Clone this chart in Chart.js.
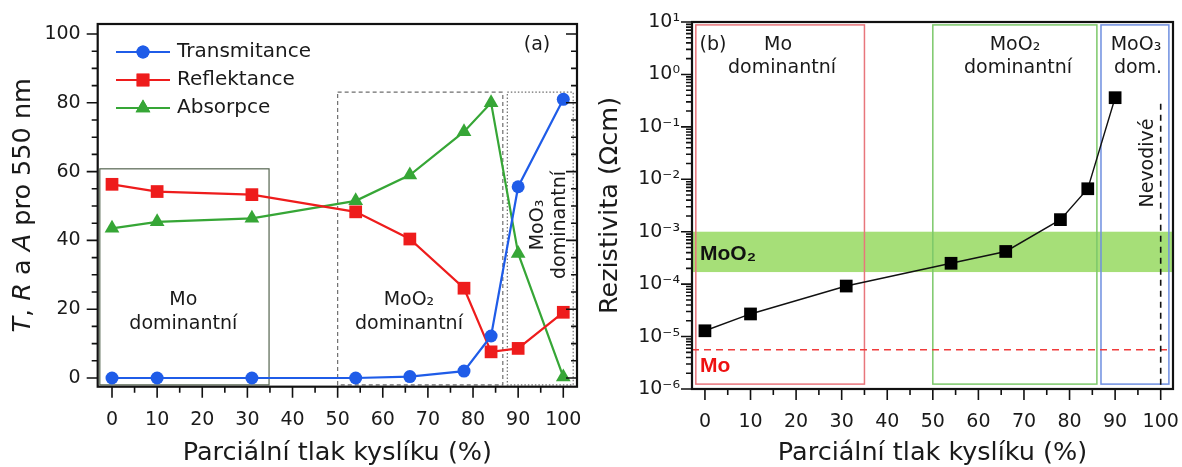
<!DOCTYPE html>
<html>
<head>
<meta charset="utf-8">
<script src="https://cdn.jsdelivr.net/npm/chart.js@4.4.1/dist/chart.umd.min.js"></script>
<style>
html, body { margin: 0; padding: 0; background: #fff; }
#wrap { position: relative; width: 1182px; height: 467px; }
#chartA { position: absolute; left: 0; top: 0; }
#chartB { position: absolute; left: 595px; top: 0; }
</style>
</head>
<body>
<div id="wrap">
  <canvas id="chartA" width="595" height="467"></canvas>
  <canvas id="chartB" width="587" height="467"></canvas>
</div>
<script>
// (a) T, R, A pro 550 nm
const pressureA = [0, 10, 31, 54, 66, 78, 84, 90, 100];
const transmitance = [0, 0, 0, 0, 0.4, 2, 12.2, 55.6, 81];
const reflektance = [56.3, 54.2, 53.3, 48.3, 40.4, 26.1, 7.6, 8.6, 19.1];
const absorpce = [43.5, 45.4, 46.4, 51.5, 59, 71.6, 80, 36.2, 0.3];

// (b) rezistivita
const pressureB = [0, 10, 31, 54, 66, 78, 84, 90];
const rezistivita = [1.29e-5, 2.7e-5, 9.2e-5, 2.5e-4, 4.2e-4, 1.7e-3, 6.6e-3, 0.36];

// osy
const xTicks = [0, 10, 20, 30, 40, 50, 60, 70, 80, 90, 100];
const yTicksA = [0, 20, 40, 60, 80, 100];
const yTicksB = [1e-6, 1e-5, 1e-4, 1e-3, 1e-2, 1e-1, 1e0, 1e1];

// oblasti [x1, x2, y1, y2]
const boxMoA = [-2.7, 34.8, -2, 60.8];
const boxMoO2A = [50, 86.6, -2, 83.1];
const boxMoO3A = [87.6, 102.2, -2, 83.1];
const boxMoB = [-2, 35, 1.24e-6, 8.8];
const boxMoO2B = [50, 86, 1.24e-6, 8.8];
const boxMoO3B = [86.9, 101.8, 1.24e-6, 8.8];
const bandMoO2 = [1.7e-4, 1e-3];
const lineMo = 5.6e-6;
const lineNevodive = [100, 0.36];

const blue = '#1f5ce8';
const red = '#ee1c1c';
const green = '#36a636';
const sans = '"DejaVu Sans", Verdana, sans-serif';
const arial = '"Liberation Sans", Arial, sans-serif';

const sup = { '-': '⁻', '0': '⁰', '1': '¹', '2': '²', '3': '³', '4': '⁴', '5': '⁵', '6': '⁶', '7': '⁷', '8': '⁸', '9': '⁹' };

function toPoints(xs, ys) {
    return xs.map((x, i) => ({ x: x, y: ys[i] }));
}

function rectBox(chart, b, color, lw, dash) {
    const { ctx } = chart;
    const xs = chart.scales.x, ys = chart.scales.y;
    const x1 = xs.getPixelForValue(b[0]), x2 = xs.getPixelForValue(b[1]);
    const y1 = ys.getPixelForValue(b[2]), y2 = ys.getPixelForValue(b[3]);
    ctx.save();
    ctx.strokeStyle = color;
    ctx.lineWidth = lw;
    ctx.setLineDash(dash || []);
    ctx.strokeRect(x1, y2, x2 - x1, y1 - y2);
    ctx.restore();
}

function text(ctx, str, x, y, font, color, align) {
    ctx.save();
    ctx.font = font;
    ctx.fillStyle = color || '#1a1a1a';
    ctx.textAlign = align || 'center';
    ctx.textBaseline = 'middle';
    ctx.fillText(str, x, y);
    ctx.restore();
}

function vtext(ctx, lines, cx, cy, font, gap) {
    ctx.save();
    ctx.translate(cx, cy);
    ctx.rotate(-Math.PI / 2);
    ctx.font = font;
    ctx.fillStyle = '#1a1a1a';
    ctx.textAlign = 'center';
    ctx.textBaseline = 'middle';
    lines.forEach((l, i) => ctx.fillText(l, 0, (i - (lines.length - 1) / 2) * gap));
    ctx.restore();
}

// ramecek a carky os
function frameAndTicks(chart, spec) {
    const { ctx, chartArea: a } = chart;
    const xs = chart.scales.x, ys = chart.scales.y;
    ctx.save();
    ctx.strokeStyle = '#111';
    ctx.lineWidth = 1.6;
    ctx.beginPath();
    spec.xMajor.forEach(v => {
        const p = xs.getPixelForValue(v);
        ctx.moveTo(p, a.bottom); ctx.lineTo(p, a.bottom + 11);
    });
    spec.xMinor.forEach(v => {
        const p = xs.getPixelForValue(v);
        ctx.moveTo(p, a.bottom); ctx.lineTo(p, a.bottom + 6);
    });
    spec.yMajor.forEach(v => {
        const p = ys.getPixelForValue(v);
        ctx.moveTo(a.left, p); ctx.lineTo(a.left - 11, p);
        if (spec.right) { ctx.moveTo(a.right, p); ctx.lineTo(a.right - 11, p); }
    });
    spec.yMinor.forEach(v => {
        const p = ys.getPixelForValue(v);
        ctx.moveTo(a.left, p); ctx.lineTo(a.left - 6, p);
        if (spec.right) { ctx.moveTo(a.right, p); ctx.lineTo(a.right - 6, p); }
    });
    ctx.stroke();
    ctx.lineWidth = 2.2;
    ctx.strokeRect(a.left, a.top, a.right - a.left, a.bottom - a.top);
    ctx.restore();
}

const minorX = xTicks.slice(1).map(v => v - 5);

function fixX(h) {
    return s => { s.height = h; s.paddingLeft = 0; s.paddingRight = 0; };
}
function fixY(w) {
    return s => { s.width = w; s.paddingTop = 0; s.paddingBottom = 0; };
}

const panelA = {
    id: 'panelA',
    beforeDatasetsDraw(chart) {
        const { ctx } = chart;
        const xs = chart.scales.x;
        rectBox(chart, boxMoA, '#55644f', 1.2);
        rectBox(chart, boxMoO2A, '#6e6e6e', 1.2, [4, 3]);
        rectBox(chart, boxMoO3A, '#6e6e6e', 1.2, [1.5, 2]);
        const f = '19px ' + sans;
        text(ctx, 'Mo', xs.getPixelForValue(15.8), 300, f);
        text(ctx, 'dominantní', xs.getPixelForValue(15.8), 324, f);
        text(ctx, 'MoO₂', xs.getPixelForValue(65.8), 300, f);
        text(ctx, 'dominantní', xs.getPixelForValue(65.8), 324, f);
        vtext(ctx, ['MoO₃', 'dominantní'], xs.getPixelForValue(96.9), 225, f, 22);
        text(ctx, '(a)', 537, 45, f);
    },
    afterDraw(chart) {
        const { ctx } = chart;
        const yMinor = [];
        for (let v = 5; v < 100; v += 5) if (v % 20) yMinor.push(v);
        frameAndTicks(chart, {
            xMajor: xTicks, xMinor: minorX,
            yMajor: yTicksA, yMinor: yMinor,
            right: true
        });
        // legenda
        const items = [
            ['Transmitance', blue, 'circle', 6.5],
            ['Reflektance', red, 'rect', 9],
            ['Absorpce', green, 'triangle', 8.5]
        ];
        items.forEach((it, i) => {
            const y = 52 + i * 28;
            ctx.save();
            ctx.strokeStyle = it[1];
            ctx.lineWidth = 2.2;
            ctx.beginPath();
            ctx.moveTo(116, y); ctx.lineTo(170, y);
            ctx.stroke();
            ctx.fillStyle = it[1];
            Chart.helpers.drawPoint(ctx, { pointStyle: it[2], radius: it[3], borderWidth: 0 }, 143, y);
            ctx.fill();
            ctx.restore();
            text(ctx, it[0], 177, y, '20px ' + sans, '#1a1a1a', 'left');
        });
        // popisek osy y se smisenym pismem
        const parts = [['T', true], [', ', false], ['R', true], [' a ', false], ['A', true], [' pro 550 nm', false]];
        ctx.save();
        ctx.translate(23, (chart.chartArea.top + chart.chartArea.bottom) / 2);
        ctx.rotate(-Math.PI / 2);
        ctx.fillStyle = '#1a1a1a';
        ctx.textBaseline = 'middle';
        ctx.textAlign = 'left';
        const fontOf = p => (p[1] ? 'italic ' : '') + '25.5px ' + sans;
        let total = 0;
        parts.forEach(p => { ctx.font = fontOf(p); total += ctx.measureText(p[0]).width; });
        let x = -total / 2;
        parts.forEach(p => { ctx.font = fontOf(p); ctx.fillText(p[0], x, 0); x += ctx.measureText(p[0]).width; });
        ctx.restore();
    }
};

const panelB = {
    id: 'panelB',
    beforeDatasetsDraw(chart) {
        const { ctx, chartArea: a } = chart;
        const xs = chart.scales.x, ys = chart.scales.y;
        const b1 = ys.getPixelForValue(bandMoO2[0]), b2 = ys.getPixelForValue(bandMoO2[1]);
        ctx.save();
        ctx.fillStyle = '#a6df78';
        ctx.fillRect(a.left + 1, b2, a.right - a.left - 2, b1 - b2);
        ctx.restore();
        rectBox(chart, boxMoB, '#e8767c', 1.5);
        rectBox(chart, boxMoO2B, '#7cc86a', 1.5);
        rectBox(chart, boxMoO3B, '#6f8fe0', 1.5);
        // Mo cara
        const ym = ys.getPixelForValue(lineMo);
        ctx.save();
        ctx.strokeStyle = '#f03c3c';
        ctx.lineWidth = 1.6;
        ctx.setLineDash([7, 5]);
        ctx.beginPath();
        ctx.moveTo(a.left, ym); ctx.lineTo(a.right, ym);
        ctx.stroke();
        // nevodive
        const xn = xs.getPixelForValue(lineNevodive[0]);
        ctx.strokeStyle = '#111';
        ctx.setLineDash([6, 5]);
        ctx.beginPath();
        ctx.moveTo(xn, ys.getPixelForValue(lineNevodive[1]) + 6); ctx.lineTo(xn, a.bottom);
        ctx.stroke();
        ctx.restore();
        const f = '19px ' + sans;
        text(ctx, '(b)', 713 - 595, 45, f);
        text(ctx, 'Mo', 778 - 595, 45, f);
        text(ctx, 'dominantní', 782 - 595, 68, f);
        text(ctx, 'MoO₂', 1015 - 595, 45, f);
        text(ctx, 'dominantní', 1018 - 595, 68, f);
        text(ctx, 'MoO₃', 1136 - 595, 45, f);
        text(ctx, 'dom.', 1138 - 595, 68, f);
        vtext(ctx, ['Nevodivé'], 1148 - 595, 163, f, 0);
        text(ctx, 'MoO₂', a.left + 8, 254, 'bold 21px ' + arial, '#111', 'left');
        text(ctx, 'Mo', a.left + 8, 366, 'bold 21px ' + arial, '#ee1111', 'left');
    },
    afterDraw(chart) {
        const yMinor = [];
        for (let d = -6; d < 1; d++) for (let k = 2; k <= 9; k++) yMinor.push(k * Math.pow(10, d));
        frameAndTicks(chart, {
            xMajor: xTicks, xMinor: minorX,
            yMajor: yTicksB, yMinor: yMinor,
            right: false
        });
    }
};

const tickFont = { family: sans, size: 19 };
const titleFont = { family: sans, size: 25.5, lineHeight: 1 };

new Chart(document.getElementById('chartA'), {
    type: 'line',
    data: {
        datasets: [
            { label: 'Transmitance', data: toPoints(pressureA, transmitance), borderColor: blue, backgroundColor: blue, pointStyle: 'circle', pointRadius: 6.5, borderWidth: 2.2, pointBorderWidth: 0 },
            { label: 'Reflektance', data: toPoints(pressureA, reflektance), borderColor: red, backgroundColor: red, pointStyle: 'rect', pointRadius: 9, borderWidth: 2.2, pointBorderWidth: 0 },
            { label: 'Absorpce', data: toPoints(pressureA, absorpce), borderColor: green, backgroundColor: green, pointStyle: 'triangle', pointRadius: 8.5, borderWidth: 2.2, pointBorderWidth: 0 }
        ]
    },
    options: {
        responsive: false,
        animation: false,
        clip: false,
        layout: { padding: { left: 0, top: 24, right: 18, bottom: 0 } },
        plugins: { legend: { display: false }, tooltip: { enabled: false } },
        scales: {
            x: {
                type: 'linear', min: -3.17, max: 103.04,
                afterBuildTicks: s => { s.ticks = xTicks.map(v => ({ value: v })); },
                afterFit: fixX(80.3),
                grid: { display: false, drawTicks: false }, border: { display: false },
                ticks: { font: tickFont, color: '#1a1a1a', padding: 22, maxRotation: 0 },
                title: { display: true, text: 'Parciální tlak kyslíku (%)', font: titleFont, color: '#1a1a1a', padding: { top: 0, bottom: 1 } }
            },
            y: {
                min: -2.53, max: 102.9,
                afterBuildTicks: s => { s.ticks = yTicksA.map(v => ({ value: v })); },
                afterFit: fixY(97.7),
                grid: { display: false, drawTicks: false }, border: { display: false },
                ticks: { font: tickFont, color: '#1a1a1a', padding: 17 }
            }
        }
    },
    plugins: [panelA]
});

new Chart(document.getElementById('chartB'), {
    type: 'line',
    data: {
        datasets: [
            { label: 'Rezistivita', data: toPoints(pressureB, rezistivita), borderColor: '#111', backgroundColor: '#000', pointStyle: 'rect', pointRadius: 9, borderWidth: 1.4, pointBorderWidth: 0 }
        ]
    },
    options: {
        responsive: false,
        animation: false,
        clip: false,
        layout: { padding: { left: 0, top: 22, right: 7, bottom: 0 } },
        plugins: { legend: { display: false }, tooltip: { enabled: false } },
        scales: {
            x: {
                type: 'linear', min: -2.84, max: 102.7,
                afterBuildTicks: s => { s.ticks = xTicks.map(v => ({ value: v })); },
                afterFit: fixX(78),
                grid: { display: false, drawTicks: false }, border: { display: false },
                ticks: { font: tickFont, color: '#1a1a1a', padding: 22, maxRotation: 0 },
                title: { display: true, text: 'Parciální tlak kyslíku (%)', font: titleFont, color: '#1a1a1a', padding: { top: 0, bottom: 1 } }
            },
            y: {
                type: 'logarithmic', min: 1e-6, max: 10,
                afterBuildTicks: s => { s.ticks = yTicksB.map(v => ({ value: v })); },
                afterFit: fixY(97),
                grid: { display: false, drawTicks: false }, border: { display: false },
                ticks: {
                    font: { family: sans, size: 19 }, color: '#1a1a1a', padding: 12,
                    callback: v => '10' + String(Math.round(Math.log10(v))).split('').map(c => sup[c]).join('')
                },
                title: { display: true, text: 'Rezistivita (Ωcm)', font: { family: sans, size: 25.5 }, color: '#1a1a1a', padding: { top: 0, bottom: 0 } }
            }
        }
    },
    plugins: [panelB]
});
</script>
</body>
</html>
